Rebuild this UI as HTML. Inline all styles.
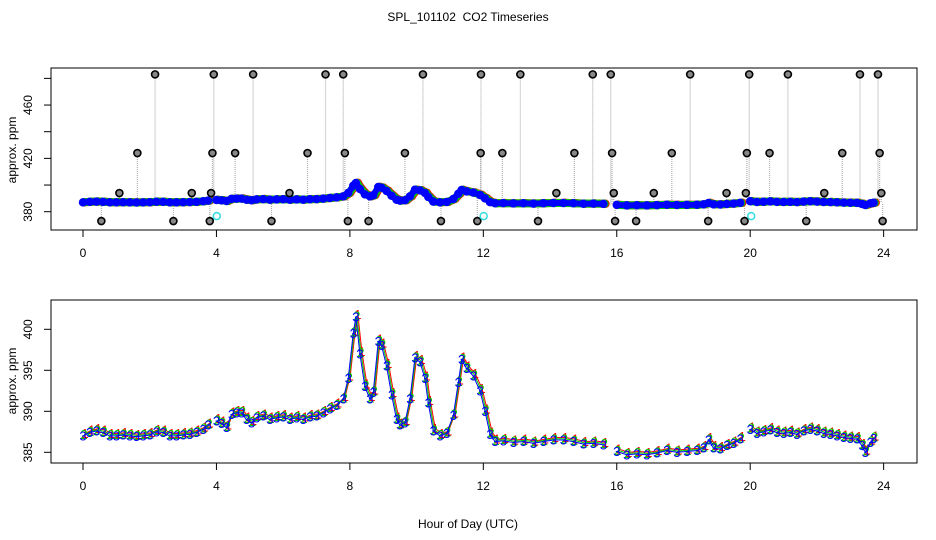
<!DOCTYPE html>
<html><head><meta charset="utf-8">
<style>
body{margin:0;background:#fff;}
svg{display:block;font-family:"Liberation Sans",sans-serif;}
</style></head>
<body>
<svg id="chart" width="936" height="540" viewBox="0 0 936 540">
<rect width="936" height="540" fill="#fff"/>
<text x="468" y="21" font-size="12" text-anchor="middle" style="white-space:pre">SPL_101102  CO2 Timeseries</text>
<text x="468" y="528" font-size="12" text-anchor="middle">Hour of Day (UTC)</text>
<g id="topPanel"></g>
<g id="botPanel"></g>
</svg>
<script>
const times=[0,0.2,0.4,0.6,0.8,1.0,1.2,1.4,1.6,1.8,2.0,2.2,2.4,2.6,2.8,3.0,3.2,3.4,3.6,3.75,null,4.0,4.15,4.3,4.45,4.6,4.75,4.9,5.05,5.2,5.4,5.6,5.8,6.0,6.2,6.4,6.6,6.8,7.0,7.2,7.4,7.6,7.8,7.95,8.1,8.18,8.3,8.45,8.6,8.7,8.85,8.95,9.1,9.25,9.4,9.5,9.65,9.8,9.95,10.1,10.25,10.35,10.5,10.7,10.9,11.1,11.25,11.35,11.5,11.7,11.9,12.05,12.2,12.35,12.6,12.9,13.2,13.5,13.8,14.1,14.4,14.7,15.0,15.3,15.6,null,16.0,16.3,16.6,16.9,17.2,17.5,17.8,18.1,18.4,18.6,18.75,18.9,19.1,19.3,19.5,19.7,null,20.0,20.2,20.4,20.6,20.8,21.0,21.2,21.4,21.6,21.8,22.0,22.2,22.4,22.6,22.8,23.0,23.2,23.35,23.45,23.6,23.7];
const values=[387.0,387.4,387.6,387.4,387.0,387.0,387.1,387.0,386.9,387.0,387.1,387.5,387.4,387.0,387.0,387.1,387.2,387.4,387.8,388.3,null,388.8,388.5,388.0,389.6,389.8,389.8,389.0,388.6,389.2,389.4,389.0,389.2,389.3,389.0,389.2,389.0,389.3,389.4,389.8,390.3,390.7,391.5,394.0,399.5,401.5,397.0,393.0,391.5,392.3,398.5,398.0,395.5,392.0,389.0,388.3,388.6,391.5,396.5,396.0,394.0,391.0,387.6,387.0,387.3,389.5,393.5,396.3,395.2,394.3,392.5,390.0,387.2,386.3,386.4,386.2,386.3,386.1,386.3,386.5,386.5,386.3,386.0,386.1,385.9,null,385.1,384.7,384.8,384.7,384.9,385.2,385.0,385.1,385.2,385.5,386.5,385.5,385.4,385.8,386.1,386.6,null,387.8,387.3,387.5,387.7,387.4,387.3,387.4,387.2,387.6,387.8,387.6,387.3,387.2,387.0,386.8,386.7,386.6,385.8,385.0,386.2,386.7];
const seriesLags=[0.06,0.03,0];
const seriesShift=[0.3,0.15,0];
const seriesColors=["#ff0000","#00cc00","#0000ff"];
const seriesSymbols=["1","2","3"];
const outlierTimes=[2.16,3.92,5.1,7.27,7.8,10.19,11.93,13.11,15.28,15.82,18.2,19.97,21.13,23.29,23.83,
1.63,3.88,4.56,6.73,7.85,9.65,11.92,12.57,14.73,15.86,17.65,19.9,20.58,22.76,23.88,
1.09,3.26,3.84,6.19,14.19,15.91,17.11,19.29,19.87,22.22,23.93,
0.55,2.71,3.80,5.65,7.94,8.56,10.73,11.82,13.64,15.95,16.58,18.74,19.83,21.68,23.97];
const outlierValues=[483,483,483,483,483,483,483,483,483,483,483,483,483,483,483,
424,424,424,424,424,424,424,424,424,424,424,424,424,424,424,
394,394,394,394,394,394,394,394,394,394,394,
373,373,373,373,373,373,373,373,373,373,373,373,373,373,373];
const calTimes=[4.01,12.01,20.03];
const calValues=[376.7,376.7,376.7];
const xTicks=[0,4,8,12,16,20,24];
const topYTicks=[380,400,420,440,460,480];
const topYLabels=["380","","420","","460",""];
const botYTicks=[385,390,395,400];

const NS="http://www.w3.org/2000/svg";
function mk(parent,tag,attrs){const e=document.createElementNS(NS,tag);for(const k in attrs)e.setAttribute(k,attrs[k]);parent.appendChild(e);return e;}
const X=h=>83+h*33.36;
const Ytop=v=>211.7-(v-380)*1.3333;
const Ybot=v=>329.3-(v-400)*8.2;
function baseline(t){let best=387.3,bd=1e9;for(let i=0;i<times.length;i++){if(times[i]===null)continue;const d=Math.abs(times[i]-t);if(d<bd){bd=d;best=values[i];}}return best;}

function axes(g,y0,y1,Y,ticks,labels,lblY){
  const box=mk(g,'rect',{x:51,y:y0,width:866,height:y1-y0,fill:'none',stroke:'#000','stroke-width':1});
  
  
  xTicks.forEach(t=>{
    const l=mk(g,'line',{x1:X(t),x2:X(t),y1:y1,y2:y1+7,stroke:'#000'});
    
    
    const tx=mk(g,'text',{x:X(t),y:y1+27,'font-size':12,'text-anchor':'middle'});tx.textContent=t;
    
    
  });
  ticks.forEach((v,i)=>{
    const l=mk(g,'line',{x1:44,x2:51,y1:Y(v),y2:Y(v),stroke:'#000'});
    
    
    const lab=labels?labels[i]:String(v);
    if(lab){const tx=mk(g,'text',{x:0,y:0,'font-size':12,'text-anchor':'middle',transform:`translate(32,${Y(v)}) rotate(-90)`});tx.textContent=lab;
    
    }
  });
  const yt=mk(g,'text',{x:0,y:0,'font-size':12,'text-anchor':'middle',transform:`translate(16,${lblY}) rotate(-90)`});yt.textContent='approx. ppm';
  
  
}
function segments(lag,shift){const segs=[];let cur=[];times.forEach((t,i)=>{if(t===null){if(cur.length)segs.push(cur);cur=[];}else cur.push([t+lag,values[i]+shift]);});if(cur.length)segs.push(cur);return segs;}

// TOP PANEL
const topG=document.getElementById('topPanel');
axes(topG,68,230,Ytop,topYTicks,topYLabels,150);
outlierTimes.forEach((t,i)=>{
  const l=mk(topG,'line',{x1:X(t),x2:X(t),y1:Ytop(outlierValues[i]),y2:Ytop(baseline(t)),stroke:'#b0b0b0','stroke-dasharray':'1,1','stroke-width':1.2});
  
  
});
for(let s=0;s<3;s++){
  segments(seriesLags[s],seriesShift[s]*0.3).forEach(seg=>{
    const p=mk(topG,'polyline',{points:seg.map(d=>X(d[0])+','+Ytop(d[1])).join(' '),fill:'none',stroke:seriesColors[s],'stroke-width':s===2?6:8,'stroke-linejoin':'round','stroke-linecap':'round'});
    
    
    seg.forEach(d=>{const c=mk(topG,'circle',{cx:X(d[0]),cy:Ytop(d[1]),r:3.5,fill:'none',stroke:seriesColors[s],'stroke-width':1.5});
      
      });
  });
}
outlierTimes.forEach((t,i)=>{
  const c=mk(topG,'circle',{cx:X(t),cy:Ytop(outlierValues[i]),r:3.5,fill:'#888',stroke:'#000','stroke-width':1.6});
  
  
});
calTimes.forEach((t,i)=>{
  const c=mk(topG,'circle',{cx:X(t),cy:Ytop(calValues[i]),r:3.5,fill:'none',stroke:'#33dddd','stroke-width':1.5});
  
  
});

// BOTTOM PANEL
const botG=document.getElementById('botPanel');
axes(botG,300,463,Ybot,botYTicks,null,381);
for(let s=0;s<3;s++){
  segments(seriesLags[s],seriesShift[s]).forEach(seg=>{
    const p=mk(botG,'polyline',{points:seg.map(d=>X(d[0])+','+Ybot(d[1])).join(' '),fill:'none',stroke:seriesColors[s],'stroke-width':1});
    
    
    seg.forEach(d=>{const tx=mk(botG,'text',{x:X(d[0]),y:Ybot(d[1])+4.5,'font-size':13,'text-anchor':'middle',fill:seriesColors[s]});tx.textContent=seriesSymbols[s];
      
      });
  });
}
</script>
</body></html>
